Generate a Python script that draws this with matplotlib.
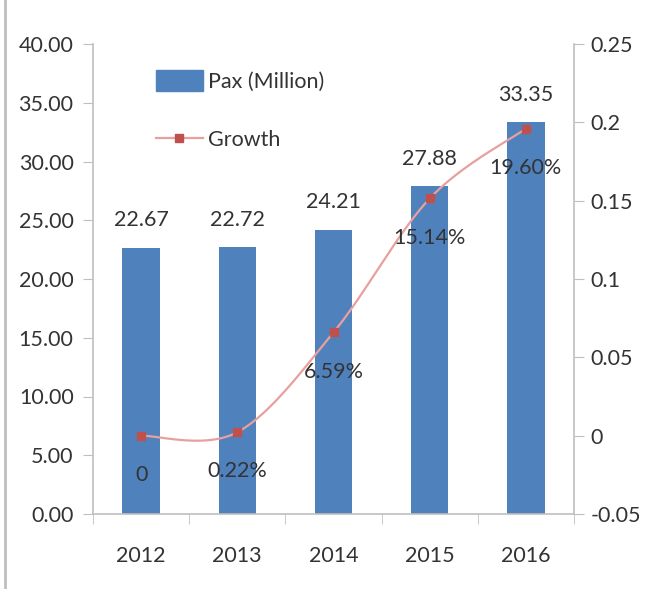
import matplotlib
matplotlib.use("Agg")
import matplotlib.pyplot as plt
import numpy as np
from matplotlib.lines import Line2D
from matplotlib.patches import Patch

years = ["2012", "2013", "2014", "2015", "2016"]
pax = [22.67, 22.72, 24.21, 27.88, 33.35]
growth = [0.0, 0.0022, 0.0659, 0.1514, 0.196]
growth_labels = ["0", "0.22%", "6.59%", "15.14%", "19.60%"]
pax_labels = ["22.67", "22.72", "24.21", "27.88", "33.35"]
left_ticks = [0, 5, 10, 15, 20, 25, 30, 35, 40]
right_ticks = [-0.05, 0, 0.05, 0.1, 0.15, 0.2, 0.25]
right_tick_labels = ["-0.05", "0", "0.05", "0.1", "0.15", "0.2", "0.25"]

plt.rcParams['font.family'] = ['Lato', 'DejaVu Sans']
TXT = '#333333'
AX = '#BFBFBF'
FS = 15.5

fig = plt.figure(figsize=(6.45, 5.89), dpi=100)
ax = fig.add_axes([93/645, 1-514/589, (574-93)/645, (514-44)/589])
x = np.arange(len(years))
ax.bar(x, pax, width=0.39, color='#4F81BD', zorder=2)
ax.set_xlim(-0.5, 4.5)
ax.set_ylim(0, 40)
ax.set_yticks(left_ticks)
ax.set_yticklabels([f"{v:.2f}" for v in left_ticks])
ax.set_xticks(x)
ax.set_xticklabels(years)
ax.set_xticks(np.arange(-0.5, 5.0, 1.0), minor=True)
ax.tick_params(axis='x', which='major', length=0, pad=23, labelsize=FS, colors=TXT)
ax.tick_params(axis='x', which='minor', length=7, color=AX, direction='out')
ax.tick_params(axis='y', length=7, color=AX, labelsize=FS, labelcolor=TXT, pad=7)
for s in ['top', 'right']:
    ax.spines[s].set_visible(False)
for s in ['left', 'bottom']:
    ax.spines[s].set_color(AX)
    ax.spines[s].set_linewidth(1.2)

for xi, v, lab in zip(x, pax, pax_labels):
    ax.annotate(lab, (xi, v), xytext=(0, 12.5), textcoords='offset points',
                ha='center', va='bottom', fontsize=FS, color=TXT, zorder=5)

ax2 = ax.twinx()
ax2.set_ylim(-0.05, 0.25)
ax2.set_yticks(right_ticks)
ax2.set_yticklabels(right_tick_labels)
ax2.tick_params(axis='y', length=7, color=AX, labelsize=FS, labelcolor=TXT, pad=5)
for s in ['top', 'left', 'bottom']:
    ax2.spines[s].set_visible(False)
ax2.spines['right'].set_color(AX)
ax2.spines['right'].set_linewidth(1.2)

# smoothed line (Catmull-Rom through data points)
px = np.array(x, dtype=float)
py = np.array(growth, dtype=float)
P = np.vstack([px, py]).T
Pext = np.vstack([P[0], P, P[-1]])
cx, cy = [], []
for i in range(1, len(Pext) - 2):
    p0, p1, p2, p3 = Pext[i-1], Pext[i], Pext[i+1], Pext[i+2]
    b1 = p1 + (p2 - p0) / 6.0
    b2 = p2 - (p3 - p1) / 6.0
    t = np.linspace(0, 1, 40)[:, None]
    seg = (1-t)**3*p1 + 3*(1-t)**2*t*b1 + 3*(1-t)*t**2*b2 + t**3*p2
    cx.extend(seg[:, 0]); cy.extend(seg[:, 1])
ax2.plot(cx, cy, color='#E8A09E', lw=1.6, zorder=3)
ax2.plot(px, py, linestyle='none', marker='s', ms=6, color='#C0504D', zorder=4)

for xi, v, lab in zip(x, growth, growth_labels):
    ax2.annotate(lab, (xi, v), xytext=(0, -21), textcoords='offset points',
                 ha='center', va='top', fontsize=FS, color=TXT, zorder=5)

handles = [Patch(facecolor='#4F81BD', edgecolor='#4F81BD'),
           Line2D([0], [0], color='#E8A09E', lw=1.6, marker='s', ms=6,
                  markerfacecolor='#C0504D', markeredgecolor='#C0504D')]
leg = ax2.legend(handles, ['Pax (Million)', 'Growth'], loc='upper left',
                 bbox_to_anchor=(0.09, 0.985), frameon=False, fontsize=FS,
                 labelspacing=1.7, handlelength=2.2, handletextpad=0.25,
                 handleheight=1.1, labelcolor=TXT)

# outer border line on the left edge
fig.add_artist(Line2D([5/645, 5/645], [0, 1], color='#BFBFBF', lw=2, transform=fig.transFigure))

fig.savefig('out.png', dpi=100)
